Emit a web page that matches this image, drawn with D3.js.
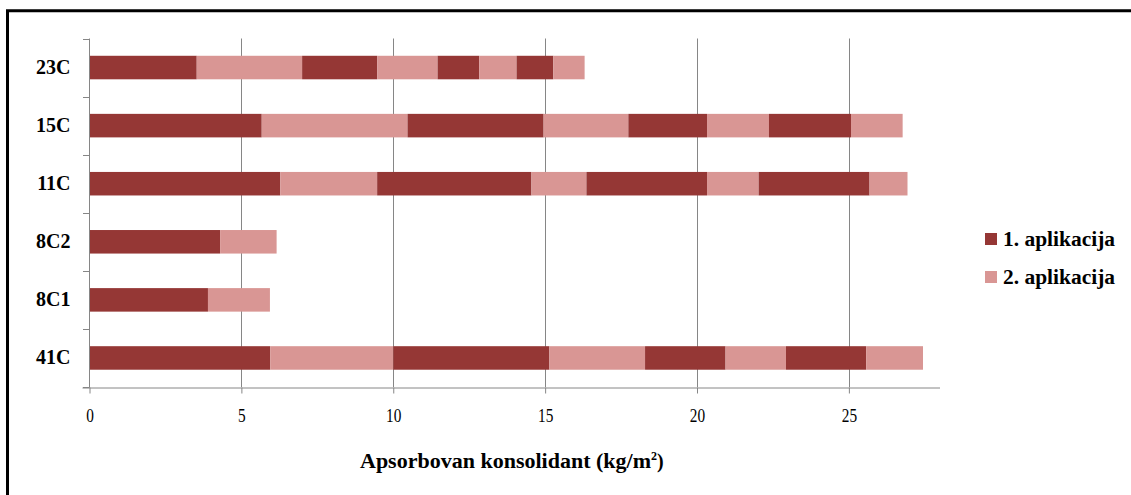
<!DOCTYPE html>
<html>
<head>
<meta charset="utf-8">
<script src="https://cdn.jsdelivr.net/npm/d3@7"></script>
<style>
  html, body { margin: 0; padding: 0; background: #fff; }
  svg { display: block; }
  svg text { font-family: "Liberation Serif", "Times New Roman", serif; }
</style>
</head>
<body>
<svg id="chart" width="1131" height="495"></svg>
<script>
// Categories (top to bottom as displayed)
const categories = ["23C", "15C", "11C", "8C2", "8C1", "41C"];
// Successive stacked segments, alternating 1. aplikacija / 2. aplikacija
const seg1 = [3.53, 5.67, 6.28, 4.30, 3.90, 5.95]; // 1. aplikacija
const seg2 = [3.47, 4.80, 3.19, 1.86, 2.04, 4.05]; // 2. aplikacija
const seg3 = [2.47, 4.48, 5.08, 0, 0, 5.14];       // 1. aplikacija
const seg4 = [1.99, 2.79, 1.81, 0, 0, 3.15];       // 2. aplikacija
const seg5 = [1.37, 2.59, 3.97, 0, 0, 2.65];       // 1. aplikacija
const seg6 = [1.23, 2.04, 1.70, 0, 0, 1.99];       // 2. aplikacija
const seg7 = [1.21, 2.70, 3.65, 0, 0, 2.64];       // 1. aplikacija
const seg8 = [1.03, 1.70, 1.25, 0, 0, 1.87];       // 2. aplikacija
const segments = [seg1, seg2, seg3, seg4, seg5, seg6, seg7, seg8];
const seriesNames = ["1. aplikacija", "2. aplikacija"];
const xTicks = [0, 5, 10, 15, 20, 25];
const xMax = 28;
const xTitle = "Apsorbovan konsolidant (kg/m";
const colors = ["#953735", "#D99694"];

const svg = d3.select("#chart");
const serif = "'Liberation Serif', 'Times New Roman', serif";

// frame
svg.append("path")
  .attr("d", "M7.5,500 V10.8 H1145")
  .attr("fill", "none").attr("stroke", "#000").attr("stroke-width", 3);

const x = d3.scaleLinear().domain([0, xMax]).range([89.5, 940]);
const y = d3.scaleBand().domain(categories).range([38.5, 387]).paddingInner(0.595).paddingOuter(0.2975);

// gridlines
svg.append("g").selectAll("line").data(xTicks.filter(d => d > 0)).join("line")
  .attr("x1", d => Math.round(x(d)) + 0.5).attr("x2", d => Math.round(x(d)) + 0.5)
  .attr("y1", 38.5).attr("y2", 387)
  .attr("stroke", "#868686").attr("stroke-width", 1);

// stacked data
const table = categories.map((c, i) => {
  const row = { cat: c };
  segments.forEach((s, j) => row["s" + j] = s[i]);
  return row;
});
const keys = segments.map((s, j) => "s" + j);
const stacked = d3.stack().keys(keys)(table);

svg.append("g").selectAll("g").data(stacked).join("g")
  .attr("fill", (d, i) => colors[i % 2])
  .selectAll("rect").data(d => d).join("rect")
  .attr("x", d => x(d[0]))
  .attr("y", d => y(d.data.cat))
  .attr("width", d => Math.max(0, x(d[1]) - x(d[0])))
  .attr("height", y.bandwidth());

// x axis
const xAxis = d3.axisBottom(x).tickValues(xTicks).tickSize(6).tickPadding(18);
const gx = svg.append("g").attr("transform", "translate(0,387.5)").call(xAxis);
gx.attr("font-family", null);
gx.select(".domain").attr("d", "M82.5,0.5H940").attr("stroke", "#868686");
gx.selectAll(".tick line").attr("stroke", "#868686");
gx.selectAll(".tick text").style("font-family", serif).attr("font-size", 18).attr("fill", "#000")
  .attr("dy", "0.6em")
  .attr("transform", "scale(0.85,1)")
  .attr("x", 0);

// y axis line + ticks between categories
const step = y.step();
const bounds = d3.range(categories.length + 1).map(i => 38.5 + i * step);
svg.append("line").attr("x1", 89.5).attr("x2", 89.5).attr("y1", 38.5).attr("y2", 387.5)
  .attr("stroke", "#868686");
svg.append("g").selectAll("line").data(bounds).join("line")
  .attr("x1", 83).attr("x2", 89.5)
  .attr("y1", d => Math.round(d) + 0.5).attr("y2", d => Math.round(d) + 0.5)
  .attr("stroke", "#868686");

const yAxis = d3.axisLeft(y).tickSize(0).tickPadding(19);
const gy = svg.append("g").attr("transform", "translate(89.5,0)").call(yAxis);
gy.attr("font-family", null);
gy.select(".domain").remove();
gy.selectAll(".tick text").style("font-family", serif).attr("font-size", 20)
  .attr("font-weight", "bold").attr("fill", "#000");

// axis title
const t = svg.append("text").attr("x", 360).attr("y", 468).attr("text-anchor", "start")
  .style("font-family", serif).attr("font-size", 20).attr("font-weight", "bold").attr("fill", "#000");
t.append("tspan").attr("textLength", 291).attr("lengthAdjust", "spacingAndGlyphs").text(xTitle);
t.append("tspan").attr("dy", -8).attr("font-size", 12).text("2");
t.append("tspan").attr("dy", 8).text(")");

// legend
const lg = svg.append("g").selectAll("g").data(seriesNames).join("g")
  .attr("transform", (d, i) => `translate(985,${233 + i * 38})`);
lg.append("rect").attr("width", 12).attr("height", 12).attr("fill", (d, i) => colors[i]);
lg.append("text").attr("x", 18).attr("y", 6).attr("dy", "0.35em")
  .style("font-family", serif).attr("font-size", 20).attr("font-weight", "bold").attr("fill", "#000")
  .attr("textLength", 112).attr("lengthAdjust", "spacingAndGlyphs")
  .text(d => d);
</script>
</body>
</html>
